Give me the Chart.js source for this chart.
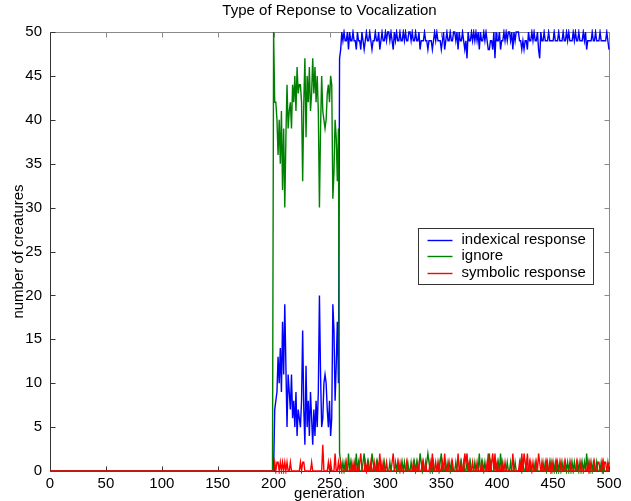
<!DOCTYPE html>
<html>
<head>
<meta charset="utf-8">
<title>Type of Reponse to Vocalization</title>
<script src="https://cdn.jsdelivr.net/npm/chart.js@4.4.1/dist/chart.umd.min.js"></script>
<style>
  html, body { margin: 0; padding: 0; background: #fff; }
  canvas { display: block; }
</style>
</head>
<body>
<canvas id="myChart" width="631" height="501"></canvas>
<script>
//tick labels
const xTicks = [0, 50, 100, 150, 200, 250, 300, 350, 400, 450, 500];
const yTicks = [0, 5, 10, 15, 20, 25, 30, 35, 40, 45, 50];

//one value per generation, 0..500
const generations = Array.from({ length: 501 }, (_, i) => i);

const indexical = [
  0,0,0,0,0,0,0,0,0,0, 0,0,0,0,0,0,0,0,0,0, 0,0,0,0,0,0,0,0,0,0, 0,0,0,0,0,0,0,0,0,0,
  0,0,0,0,0,0,0,0,0,0, 0,0,0,0,0,0,0,0,0,0, 0,0,0,0,0,0,0,0,0,0, 0,0,0,0,0,0,0,0,0,0,
  0,0,0,0,0,0,0,0,0,0, 0,0,0,0,0,0,0,0,0,0, 0,0,0,0,0,0,0,0,0,0, 0,0,0,0,0,0,0,0,0,0,
  0,0,0,0,0,0,0,0,0,0, 0,0,0,0,0,0,0,0,0,0, 0,0,0,0,0,0,0,0,0,0, 0,0,0,0,0,0,0,0,0,0,
  0,0,0,0,0,0,0,0,0,0, 0,0,0,0,0,0,0,0,0,0, 0,0,0,0,0,0,0,0,0,0, 0,0,0,0,0,0,0,0,0,0,
  0,7,8,9,13,10,14,9,17,11, 19,12,5,11,9,7,11,6,8,5,
  9,4,7,6,5,8,16,7,3,12, 5,8,4,9,6,3,7,4,8,5,
  9,20,11,5,6,10,11,10,7,5, 8,4,6,19,16,8,12,17,10,47,
  48,50,49,
  50,49,49,50,48,50,49,49,50,49, 49,48,50,49,49,48,50,49,48,49,
  50,49,49,50,49,48,49,49,50,49, 49,50,48,49,50,49,49,50,49,50,
  50,49,50,49,48,50,49,50,49,49, 50,49,49,50,49,50,49,49,50,50,
  49,50,49,49,50,49,49,50,48,49, 49,49,50,49,49,48,49,49,49,48,
  49,50,49,50,49,49,49,48,49,50, 48,49,50,49,49,50,49,49,50,50,
  49,50,48,50,49,49,50,49,48,49, 47,50,49,49,50,49,50,49,50,49,
  50,48,50,49,49,50,49,50,49,48, 48,49,49,48,50,47,50,49,49,50,
  48,49,49,50,49,50,49,50,50,49, 50,48,50,49,50,50,50,49,49,48,
  49,48,49,49,48,50,49,49,50,49, 50,49,49,50,48,47,50,49,49,50,
  49,49,49,50,49,49,49,49,50,49, 49,49,50,49,49,49,50,49,49,50,
  49,50,49,49,49,50,49,50,49,49, 50,49,49,49,50,49,50,48,49,49,
  49,49,50,49,49,50,49,49,49,50, 49,49,49,49,49,50,49,48
];

const ignore = [
  0,0,0,0,0,0,0,0,0,0, 0,0,0,0,0,0,0,0,0,0, 0,0,0,0,0,0,0,0,0,0, 0,0,0,0,0,0,0,0,0,0,
  0,0,0,0,0,0,0,0,0,0, 0,0,0,0,0,0,0,0,0,0, 0,0,0,0,0,0,0,0,0,0, 0,0,0,0,0,0,0,0,0,0,
  0,0,0,0,0,0,0,0,0,0, 0,0,0,0,0,0,0,0,0,0, 0,0,0,0,0,0,0,0,0,0, 0,0,0,0,0,0,0,0,0,0,
  0,0,0,0,0,0,0,0,0,0, 0,0,0,0,0,0,0,0,0,0, 0,0,0,0,0,0,0,0,0,0, 0,0,0,0,0,0,0,0,0,0,
  0,0,0,0,0,0,0,0,0,0, 0,0,0,0,0,0,0,0,0,0, 0,0,0,0,0,0,0,0,0,0, 0,0,0,0,0,0,0,0,0,0,
  50,42,42,40,36,40,35,41,32,39, 30,38,44,39,41,42,39,44,42,45,
  41,46,43,44,44,42,33,42,47,38, 45,42,46,41,43,47,43,46,42,45,
  41,30,39,45,41,40,39,40,43,44, 42,45,44,31,34,40,38,33,39,2,
  1,0,1,
  0,1,0,0,2,0,1,0,0,1, 0,2,0,1,0,0,0,1,2,0,
  0,0,1,0,0,2,1,0,0,1, 0,0,0,1,0,0,1,0,0,0,
  0,1,0,0,0,0,1,0,1,0, 0,0,1,0,1,0,0,1,0,0,
  1,0,0,1,0,1,0,0,2,1, 0,1,0,0,1,2,1,0,1,0,
  1,0,0,0,1,0,1,2,0,0, 0,1,0,0,1,0,1,0,0,0,
  1,0,0,0,1,0,0,1,0,0, 1,0,0,1,0,0,0,1,0,0,
  0,2,0,0,1,0,1,0,0,2, 0,1,0,0,0,1,0,0,1,0,
  2,0,1,0,0,0,1,0,0,1, 0,0,0,1,0,0,0,0,1,0,
  1,0,0,1,0,0,1,0,0,0, 0,1,0,0,0,0,0,1,0,0,
  1,0,1,0,0,1,0,1,0,1, 0,1,0,1,0,1,0,0,1,0,
  1,0,1,0,1,0,1,0,0,1, 0,1,0,1,0,1,0,2,0,1,
  0,1,0,1,0,0,1,0,0,0, 1,0,1,0,0,0,1,0
];

const symbolic = [
  0,0,0,0,0,0,0,0,0,0, 0,0,0,0,0,0,0,0,0,0, 0,0,0,0,0,0,0,0,0,0, 0,0,0,0,0,0,0,0,0,0,
  0,0,0,0,0,0,0,0,0,0, 0,0,0,0,0,0,0,0,0,0, 0,0,0,0,0,0,0,0,0,0, 0,0,0,0,0,0,0,0,0,0,
  0,0,0,0,0,0,0,0,0,0, 0,0,0,0,0,0,0,0,0,0, 0,0,0,0,0,0,0,0,0,0, 0,0,0,0,0,0,0,0,0,0,
  0,0,0,0,0,0,0,0,0,0, 0,0,0,0,0,0,0,0,0,0, 0,0,0,0,0,0,0,0,0,0, 0,0,0,0,0,0,0,0,0,0,
  0,0,0,0,0,0,0,0,0,0, 0,0,0,0,0,0,0,0,0,0, 0,0,0,0,0,0,0,0,0,0, 0,0,0,0,0,0,0,0,0,0,
  0,1,0,1,1,0,1,0,1,0, 1,0,1,0,0,1,0,0,0,0,
  0,0,0,0,1,0,1,1,0,0, 0,0,0,0,1,0,0,0,0,0,
  0,0,0,0,3,0,0,0,0,1, 0,1,0,0,0,2,0,0,1,0,
  1,0,0,
  0,0,1,0,0,0,0,1,0,0, 1,0,0,0,1,2,0,0,0,1,
  0,1,0,0,1,0,0,1,0,0, 1,0,2,0,0,1,0,0,1,0,
  0,0,0,1,2,0,0,0,0,1, 0,1,0,0,0,0,1,0,0,0,
  0,0,1,0,0,0,1,0,0,0, 1,0,0,1,0,0,0,1,0,2,
  0,0,1,0,0,1,0,0,1,0, 2,0,0,1,0,0,0,1,0,0,
  0,0,2,0,0,1,0,0,2,1, 2,0,1,0,0,1,0,0,0,1,
  0,0,0,1,0,0,0,0,1,0, 2,0,1,2,0,2,0,1,0,0,
  0,1,0,0,1,0,0,0,0,0, 0,2,0,0,0,0,0,1,0,2,
  0,2,1,0,2,0,0,1,0,1, 0,0,1,0,2,1,0,0,1,0,
  0,1,0,0,1,0,1,0,0,0, 1,0,0,0,1,0,0,1,0,0,
  0,0,0,1,0,0,0,0,1,0, 0,0,1,0,0,0,0,0,1,0,
  1,0,0,0,1,0,0,1,1,0, 0,1,0,1,1,0,0,1
];

const FONT = "'Liberation Sans', Arial, Helvetica, sans-serif";

const toPoints = (values) => values.map((v, i) => ({ x: generations[i], y: v }));

//matlab style box with inward ticks
const axesBox = {
  id: "axesBox",
  beforeDatasetsDraw(chart) {
    const { ctx, chartArea: a, scales } = chart;
    const L = Math.round(a.left) + 0.5;
    const R = Math.round(a.right) + 0.5;
    const T = Math.round(a.top) + 0.5;
    const B = Math.round(a.bottom) + 0.5;
    const tl = 5;
    ctx.save();
    ctx.lineWidth = 1;

    //top + right (lighter)
    ctx.strokeStyle = "#8a8a8a";
    ctx.beginPath();
    ctx.moveTo(L, T);
    ctx.lineTo(R, T);
    ctx.lineTo(R, B);
    for (const v of xTicks) {
      const px = Math.round(scales.x.getPixelForValue(v)) + 0.5;
      ctx.moveTo(px, T);
      ctx.lineTo(px, T + tl);
    }
    for (const v of yTicks) {
      const py = Math.round(scales.y.getPixelForValue(v)) + 0.5;
      ctx.moveTo(R, py);
      ctx.lineTo(R - tl, py);
    }
    ctx.stroke();

    //left + bottom
    ctx.strokeStyle = "#333";
    ctx.beginPath();
    ctx.moveTo(L, T);
    ctx.lineTo(L, B);
    ctx.lineTo(R, B);
    for (const v of xTicks) {
      const px = Math.round(scales.x.getPixelForValue(v)) + 0.5;
      ctx.moveTo(px, B);
      ctx.lineTo(px, B - tl);
    }
    for (const v of yTicks) {
      const py = Math.round(scales.y.getPixelForValue(v)) + 0.5;
      ctx.moveTo(L, py);
      ctx.lineTo(L + tl, py);
    }
    ctx.stroke();
    ctx.restore();
  },
};

//legend box inside the axes
const boxLegend = {
  id: "boxLegend",
  afterDraw(chart) {
    const { ctx, chartArea: a } = chart;
    const sets = chart.data.datasets;
    ctx.save();
    ctx.font = "15px " + FONT;
    let tw = 0;
    sets.forEach((d) => (tw = Math.max(tw, ctx.measureText(d.label).width)));
    const rowH = 16.5;
    const w = Math.round(9 + 25 + 9 + tw + 8);
    const h = Math.round(rowH * sets.length + 6);
    const x0 = Math.round(a.right - 16 - w) + 0.5;
    const y0 = Math.round((a.top + a.bottom) / 2 - h / 2 + 4) + 0.5;
    ctx.fillStyle = "#fff";
    ctx.fillRect(x0, y0, w, h);
    ctx.strokeStyle = "#333";
    ctx.lineWidth = 1;
    ctx.strokeRect(x0, y0, w, h);
    ctx.textBaseline = "middle";
    ctx.textAlign = "left";
    sets.forEach((d, i) => {
      const cy = y0 + 3 + rowH * (i + 0.5);
      ctx.strokeStyle = d.borderColor;
      ctx.lineWidth = 1.4;
      ctx.beginPath();
      ctx.moveTo(x0 + 9, Math.round(cy) + 0.5);
      ctx.lineTo(x0 + 34, Math.round(cy) + 0.5);
      ctx.stroke();
      ctx.fillStyle = "#000";
      ctx.fillText(d.label, x0 + 43, cy);
    });
    ctx.restore();
  },
};

var ctx = document.getElementById("myChart").getContext("2d");

var chart = new Chart(ctx, {
  type: "line",
  data: {
    datasets: [
      {
        label: "indexical response",
        data: toPoints(indexical),
        borderColor: "#0000ff",
        order: 3,
      },
      {
        label: "ignore",
        data: toPoints(ignore),
        borderColor: "#008000",
        order: 2,
      },
      {
        label: "symbolic response",
        data: toPoints(symbolic),
        borderColor: "#ff0000",
        order: 1,
      },
    ],
  },
  options: {
    responsive: false,
    animation: false,
    events: [],
    elements: {
      line: { borderWidth: 1.4, tension: 0, fill: false },
      point: { radius: 0 },
    },
    datasets: { line: { clip: 3 } },
    layout: {
      padding: { left: 0, right: 22, top: 0, bottom: 0 },
    },
    plugins: {
      legend: { display: false },
      tooltip: { enabled: false },
      title: {
        display: true,
        text: "Type of Reponse to Vocalization",
        color: "#000",
        fullSize: false,
        font: { family: FONT, size: 15, weight: "normal", lineHeight: 1.2 },
        padding: { top: 2, bottom: 12 },
      },
    },
    scales: {
      x: {
        type: "linear",
        min: 0,
        max: 500,
        grid: { display: false, drawTicks: false },
        border: { display: false },
        afterBuildTicks: (scale) => {
          scale.ticks = xTicks.map((v) => ({ value: v }));
        },
        afterFit: (scale) => {
          scale.height = 30;
        },
        ticks: {
          color: "#000",
          padding: 4,
          maxRotation: 0,
          autoSkip: false,
          font: { family: FONT, size: 15 },
        },
        title: {
          display: true,
          text: "generation",
          color: "#000",
          font: { family: FONT, size: 15, lineHeight: 1 },
          padding: { top: 0, bottom: 0 },
        },
      },
      y: {
        type: "linear",
        min: 0,
        max: 50,
        grid: { display: false, drawTicks: false },
        border: { display: false },
        afterBuildTicks: (scale) => {
          scale.ticks = yTicks.map((v) => ({ value: v }));
        },
        afterFit: (scale) => {
          scale.width = 50;
        },
        ticks: {
          color: "#000",
          padding: 8,
          autoSkip: false,
          font: { family: FONT, size: 15 },
        },
        title: {
          display: true,
          text: "number of creatures",
          color: "#000",
          font: { family: FONT, size: 15, lineHeight: 1 },
          padding: { top: 11, bottom: 0 },
        },
      },
    },
  },
  plugins: [axesBox, boxLegend],
});
</script>
</body>
</html>
